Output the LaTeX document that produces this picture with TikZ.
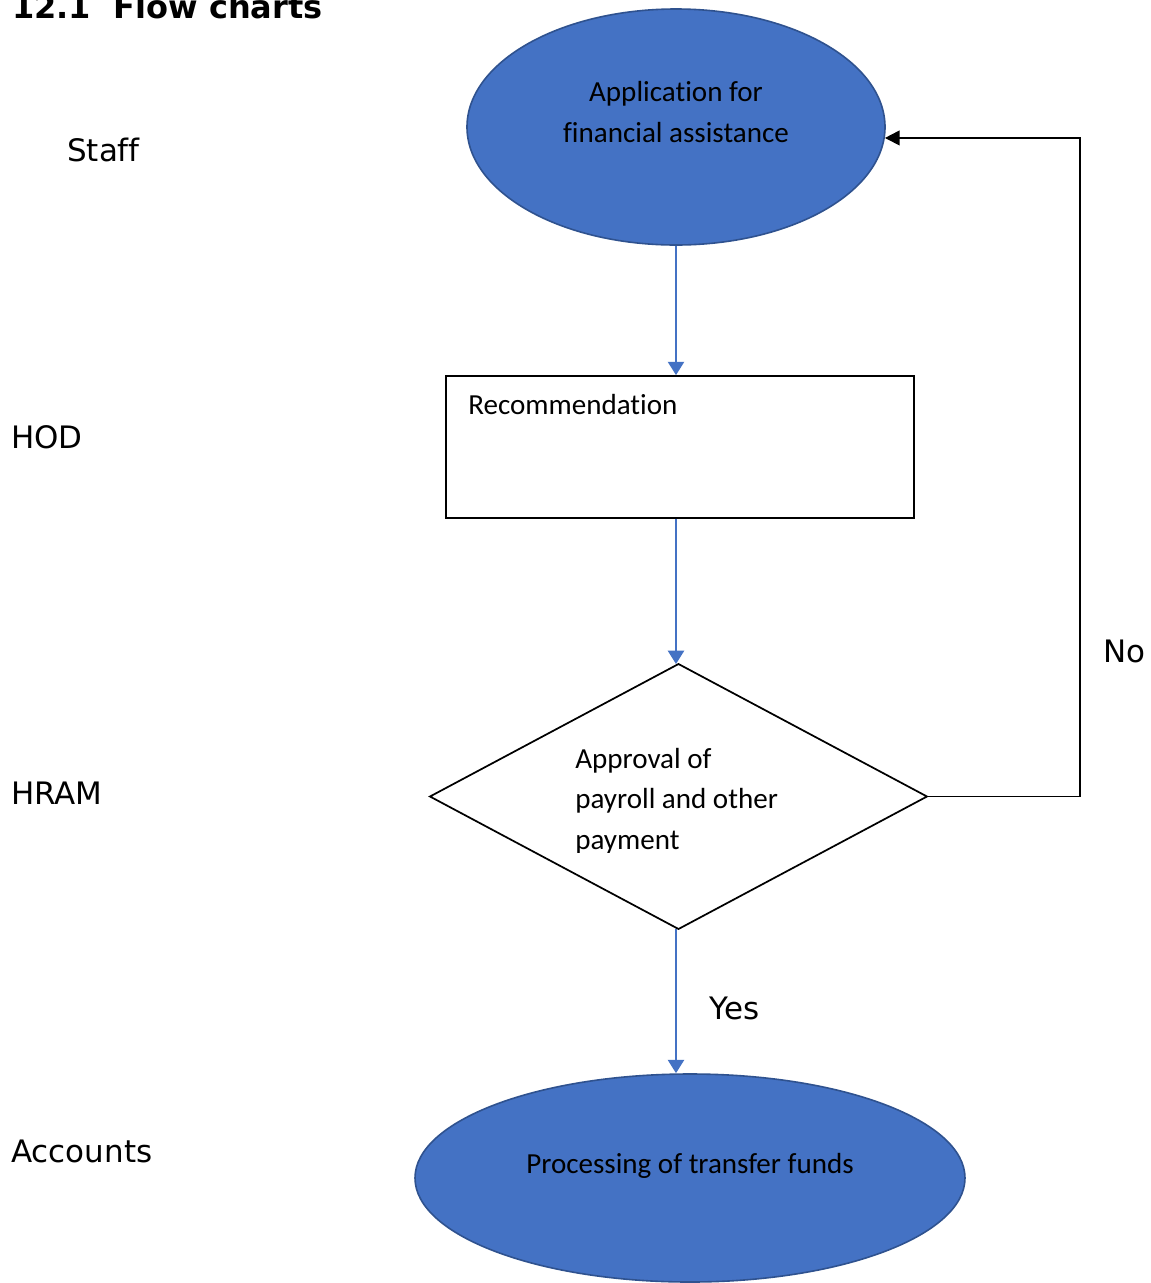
\documentclass[tikz,border=0pt]{standalone}
\usepackage{fontspec}
\setmainfont{Carlito}[Ligatures=NoCommon]
\newfontfamily\lanefont{DejaVu Sans}[Ligatures=NoCommon]
\usetikzlibrary{shapes.geometric,arrows.meta}
\definecolor{wordblue}{HTML}{4472C4}
\definecolor{wordedge}{HTML}{2F528F}
\tikzset{
  terminal/.style={ellipse,fill=wordblue,draw=wordedge,line width=1.2pt,inner sep=0pt},
  procbox/.style={rectangle,draw=black,line width=1.3pt,fill=white,inner sep=0pt},
  decision/.style={diamond,draw=black,line width=1.3pt,inner sep=0pt,outer sep=0pt},
  bodytext/.style={font=\fontsize{21.8}{26}\selectfont,inner sep=0pt},
  lanetext/.style={font=\lanefont\fontsize{23.2}{28}\selectfont,inner sep=0pt,anchor=base west},
  flow/.style={draw=wordblue,line width=1.8pt,-{Triangle[width=12pt,length=10pt]}},
  loopback/.style={draw=black,line width=1.3pt,-{Triangle[width=11pt,length=11pt]}},
}
\begin{document}
\begin{tikzpicture}[x=0.75pt,y=-0.75pt]
\useasboundingbox (0,0) rectangle (1151,1283);
\fill[white] (0,0) rectangle (1151,1283);

% heading
\node[font=\lanefont\bfseries\fontsize{24}{29}\selectfont,inner sep=0pt,anchor=base west] (title) at (12,18) {12.1\ \ Flow charts};

% lane labels
\node[lanetext] (staff) at (67,161) {Staff};
\node[lanetext] (hod) at (11,448) {HOD};
\node[lanetext] (hram) at (11,804) {HRAM};
\node[lanetext] (acc) at (11,1162) {Accounts};

% shapes
\node[terminal,minimum width=313.5pt,minimum height=177pt] (app) at (676,127) {};
\node[procbox,minimum width=351pt,minimum height=106.5pt] (rec) at (680,447) {};
\node[decision,minimum width=372.75pt,minimum height=198.75pt] (dec) at (678.5,796.5) {};
\node[terminal,minimum width=412.5pt,minimum height=156pt] (proc) at (690,1178) {};

% texts
\node[bodytext,anchor=base] (apptxt1) at (676,101) {Application for};
\node[bodytext,anchor=base] (apptxt2) at (676,142) {financial assistance};
\node[bodytext,anchor=base west] (rectxt) at (468,414) {Recommendation};
\begin{scope}
  \clip (560,700) rectangle (900,852);
  \node[bodytext,anchor=base west] (dectxt1) at (575,768) {Approval of};
  \node[bodytext,anchor=base west] (dectxt2) at (575,808) {payroll and other};
  \node[bodytext,anchor=base west] (dectxt3) at (575,849) {payment};
\end{scope}
\node[bodytext,anchor=base] (proctxt) at (690,1173) {Processing of transfer funds};

% connectors
\draw[flow] (app.south) -- (app.south |- rec.north);
\draw[flow] (app.south |- rec.south) -- (app.south |- dec.north);
\draw[flow] (app.south |- dec.south) -- (app.south |- proc.north);
\coordinate (nocorner) at (1080,797);
\draw[loopback] (dec.east) -- (dec.east -| nocorner) |- (app.-3.3);

% branch labels
\node[lanetext] (yes) at (709,1019) {Yes};
\node[lanetext] (no) at (1103,662) {No};
\end{tikzpicture}
\end{document}
